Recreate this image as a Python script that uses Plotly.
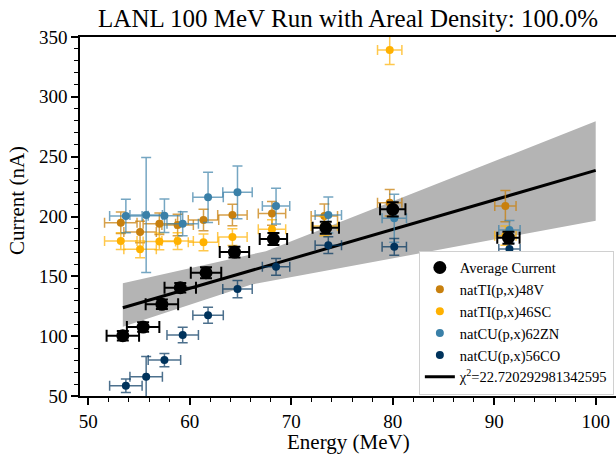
import plotly.graph_objects as go

# ---------------- data ----------------
title_text = "LANL 100 MeV Run with Areal Density: 100.0%"

E_avg = [53.4, 55.4, 57.25, 59.06, 61.6, 64.4, 68.24, 73.4, 80.0, 91.4]
E_avg_err = [1.6, 1.6, 1.6, 1.55, 1.5, 1.45, 1.35, 1.3, 1.25, 1.1]
I_avg = [100.4, 107.6, 126.6, 140.5, 153.0, 170.3, 181.2, 190.6, 206.0, 182.3]
I_avg_err = [4, 4, 4, 4, 4.5, 4.5, 5, 5, 6, 5]

E_ti = [53.2, 55.1, 57.0, 58.8, 61.35, 64.2, 68.1, 73.26, 79.7, 91.1]
E_ti_err = [1.6, 1.6, 1.6, 1.55, 1.5, 1.45, 1.35, 1.3, 1.2, 1.05]
E_cu = [53.7, 55.7, 57.5, 59.3, 61.8, 64.7, 68.5, 73.65, 80.15, 91.5]
E_cu_err = [1.6, 1.6, 1.6, 1.55, 1.5, 1.45, 1.35, 1.3, 1.2, 1.05]

I_48v = [194.8, 187.0, 193.9, 192.9, 197.0, 201.2, 202.6, 200.4, 211.5, 208.7]
I_48v_err = [9, 9, 9, 9, 9, 9, 10, 10, 11, 13]
I_46sc = [179.5, 172.6, 179.2, 179.5, 178.4, 182.8, 189.3, 192.0, 339.1, 184.0]
I_46sc_err = [7, 7, 7, 7, 7, 7, 8, 8, 12, 8]
I_62zn = [200.4, 201.2, 200.6, 194.0, 216.0, 220.2, 208.7, 201.2, 198.5, 188.7]
I_62zn_err = [14, 48, 14, 10, 21, 22, 15, 15, 20, 8]
I_56co = [58.6, 66.1, 80.0, 101.0, 117.4, 139.4, 158.0, 176.0, 174.7, 172.8]
I_56co_err = [5.7, 17, 5.6, 6.4, 6.7, 7.2, 7, 7, 7, 5]

fit_E = [53.4, 100.0]
fit_I = [123.7, 238.5]
band_upper_E = [53.4, 60.0, 67.5, 100.0]
band_upper_I = [144.2, 156.8, 171.0, 279.5]
band_lower_E = [53.4, 66.0, 100.0]
band_lower_I = [107.9, 143.0, 196.5]

chi2_label = "χ<sup>2</sup>=22.720292981342595"

series = [
    ("natTI(p,x)48V", E_ti, E_ti_err, I_48v, I_48v_err, "#c8800e", "rgba(200,128,14,0.75)"),
    ("natTI(p,x)46SC", E_ti, E_ti_err, I_46sc, I_46sc_err, "#ffb100", "rgba(255,177,0,0.7)"),
    ("natCU(p,x)62ZN", E_cu, E_cu_err, I_62zn, I_62zn_err, "#3a80a8", "rgba(58,128,168,0.7)"),
    ("natCU(p,x)56CO", E_cu, E_cu_err, I_56co, I_56co_err, "#00335c", "rgba(0,51,92,0.7)"),
]

FONT = "Liberation Serif"

fig = go.Figure()

# confidence band
fig.add_trace(go.Scatter(
    x=band_upper_E + band_lower_E[::-1],
    y=band_upper_I + band_lower_I[::-1],
    fill="toself", fillcolor="#b4b4b4", line=dict(width=0),
    mode="lines", showlegend=False, hoverinfo="skip"))

# fit line
fig.add_trace(go.Scatter(
    x=fit_E, y=fit_I, mode="lines", line=dict(color="black", width=3),
    name=chi2_label, legendrank=6))

for k, (name, ex, exe, iy, iye, col, ecol) in enumerate(series):
    fig.add_trace(go.Scatter(
        x=ex, y=iy, mode="markers", name=name, legendrank=2 + k,
        marker=dict(color=col, size=8),
        error_x=dict(type="data", array=exe, color=ecol, thickness=1.5, width=5),
        error_y=dict(type="data", array=iye, color=ecol, thickness=1.5, width=5)))

fig.add_trace(go.Scatter(
    x=E_avg, y=I_avg, mode="markers", name="Average Current", legendrank=1,
    marker=dict(color="black", size=13),
    error_x=dict(type="data", array=E_avg_err, color="black", thickness=2, width=6),
    error_y=dict(type="data", array=I_avg_err, color="black", thickness=2, width=6)))

fig.update_layout(
    width=616, height=454,
    margin=dict(l=80, r=0, t=37, b=58),
    plot_bgcolor="white", paper_bgcolor="white",
    font=dict(family=FONT, color="black"),
    title=dict(text=title_text, x=0.565, xanchor="center", y=1 - 18 / 454,
               yanchor="middle", font=dict(size=25, family=FONT)),
    showlegend=True,
    legend=dict(x=0.996, y=0.004, xanchor="right", yanchor="bottom",
                bgcolor="white", bordercolor="#d0d0d0", borderwidth=1,
                font=dict(size=14.5, family=FONT), tracegroupgap=0),
    xaxis=dict(range=[49.18, 102.0], showgrid=False, zeroline=False,
               showline=True, linecolor="black", linewidth=1.5, mirror=True,
               ticks="outside", ticklen=7, tickwidth=1.5, tickcolor="black",
               tick0=50, dtick=10, tickfont=dict(size=19, family=FONT),
               minor=dict(ticks="outside", ticklen=4, tickwidth=1, dtick=2,
                          tickcolor="black", showgrid=False)),
    yaxis=dict(range=[50, 350], showgrid=False, zeroline=False,
               showline=True, linecolor="black", linewidth=1.5,
               ticks="outside", ticklen=7, tickwidth=1.5, tickcolor="black",
               tick0=50, dtick=50, tickfont=dict(size=19, family=FONT),
               minor=dict(ticks="outside", ticklen=4, tickwidth=1, dtick=10,
                          tickcolor="black", showgrid=False)),
    annotations=[
        dict(text="Energy (MeV)", xref="paper", yref="paper",
             x=0.5, y=(396 - 442) / 359, xanchor="center", yanchor="middle",
             showarrow=False, font=dict(size=21, family=FONT)),
        dict(text="Current (nA)", xref="paper", yref="paper",
             x=(17 - 80) / 536, y=(396 - 201) / 359, xanchor="center",
             yanchor="middle", textangle=-90, showarrow=False,
             font=dict(size=21, family=FONT)),
    ],
)

fig.write_html("out.html")
